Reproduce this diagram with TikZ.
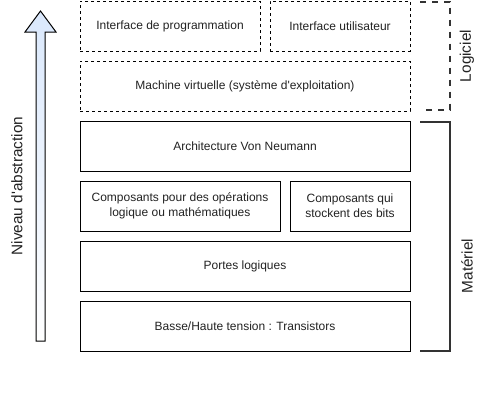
\documentclass[tikz,border=0pt]{standalone}
\usepackage{fontspec}
\setmainfont{Liberation Sans}
\definecolor{arrowblue}{HTML}{DAE8FC}
\definecolor{txt}{HTML}{222222}
\definecolor{brk}{HTML}{333333}
\begin{document}
\begin{tikzpicture}[x=0.75pt,y=-0.75pt,
  box/.style={draw=black,line width=0.75pt,inner sep=0pt,outer sep=0pt,minimum height=37.5pt,align=center,font=\fontsize{9}{11}\selectfont,text=txt},
  dbox/.style={box,dash pattern=on 2.25pt off 2.25pt},
  brack/.style={draw=brk,line width=1.5pt},
  dbrack/.style={brack,dash pattern=on 4.5pt off 4.5pt},
  side/.style={font=\fontsize{11.5}{13}\selectfont,text=txt,rotate=90}]
\useasboundingbox (0,0) rectangle (481,412);
% arrow
\path[draw=black,line width=0.75pt,top color=arrowblue,bottom color=white]
  (36,341) -- (36,32) -- (25,32) -- (40.5,11) -- (56,32) -- (45,32) -- (45,341) -- cycle;
\node[side] (niv) at (17,186) {Niveau d\textquotesingle abstraction};
% boxes
\node[dbox,minimum width=135pt] (prog) at (170,26) {Interface de programmation};
\node[dbox,minimum width=105pt] (util) at (340,26) {Interface utilisateur};
\node[dbox,minimum width=247.5pt] (vm) at (245,86) {Machine virtuelle (système d\textquotesingle exploitation)};
\node[box,minimum width=247.5pt] (arch) at (245,146) {Architecture Von Neumann};
\node[box,minimum width=150pt] (ops) at (180,206) {Composants pour des opérations\\logique ou mathématiques};
\node[box,minimum width=90pt] (bits) at (350,206) {Composants qui\\stockent des bits};
\node[box,minimum width=247.5pt] (portes) at (245,266) {Portes logiques};
\node[box,minimum width=247.5pt] (trans) at (245,326) {Basse/Haute tension : Transistors};
% brackets
\coordinate (l1) at (420,1.5);
\coordinate (l2) at (450,1.5);
\coordinate (l3) at (450,109.5);
\coordinate (l4) at (420,109.5);
\draw[dbrack] (l1) -- (l2) -- (l3) -- (l4);
\coordinate (m1) at (420,121.5);
\coordinate (m2) at (450,121.5);
\coordinate (m3) at (450,351);
\coordinate (m4) at (420,351);
\draw[brack] (m1) -- (m2) -- (m3) -- (m4);
\node[side] (logi) at (467,56) {Logiciel};
\node[side] (mat) at (467,266) {Matériel};
\end{tikzpicture}
\end{document}
